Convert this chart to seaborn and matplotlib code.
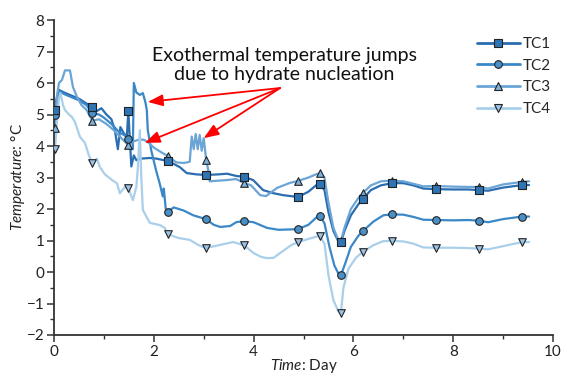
import numpy as np
import pandas as pd
import matplotlib
matplotlib.use("Agg")
import matplotlib.pyplot as plt
import seaborn as sns
from matplotlib.lines import Line2D

# ---------------- data ----------------
series_names = ["TC1", "TC2", "TC3", "TC4"]

tc1_t = [0.0, 0.02, 0.05, 0.1, 0.2, 0.35, 0.5, 0.6, 0.7, 0.77, 0.85, 0.95, 1.05, 1.15, 1.22, 1.28, 1.33, 1.4, 1.46,
         1.49, 1.52, 1.55, 1.6, 1.65, 1.75, 1.92, 2.05, 2.2, 2.28, 2.52, 2.66, 2.85, 3.04, 3.3, 3.47, 3.65, 3.81, 3.99,
         4.19, 4.4, 4.59, 4.89, 5.1, 5.25, 5.33, 5.42, 5.5, 5.6, 5.7, 5.75, 5.82, 5.95, 6.1, 6.19, 6.35, 6.55, 6.77,
         7.0, 7.2, 7.4, 7.65, 8.0, 8.3, 8.51, 8.7, 9.0, 9.38, 9.52]
tc1_v = [5.0, 5.14, 5.5, 5.78, 5.7, 5.6, 5.5, 5.4, 5.3, 5.23, 5.1, 5.2, 5.0, 4.85, 4.5, 3.9, 4.6, 4.4, 4.3,
         5.11, 4.2, 3.35, 3.7, 3.55, 3.6, 3.62, 3.6, 3.55, 3.53, 3.33, 3.14, 3.1, 3.08, 3.1, 3.12, 3.05, 3.02, 2.92,
         2.6, 2.5, 2.44, 2.38, 2.55, 2.75, 2.79, 2.6, 1.9, 1.3, 0.97, 0.95, 1.3, 1.8, 2.15, 2.32, 2.6, 2.75, 2.82,
         2.82, 2.75, 2.65, 2.63, 2.62, 2.62, 2.6, 2.58, 2.68, 2.76, 2.76]

tc2_t = [0.0, 0.02, 0.06, 0.1, 0.2, 0.35, 0.5, 0.65, 0.77, 0.9, 1.0, 1.15, 1.3, 1.45, 1.49, 1.53, 1.58, 1.6, 1.65,
         1.72, 1.78, 1.83, 1.86, 1.88, 1.95, 2.05, 2.12, 2.18, 2.2, 2.24, 2.28, 2.4, 2.6, 2.79, 3.04, 3.2, 3.33,
         3.53, 3.65, 3.81, 4.0, 4.27, 4.5, 4.7, 4.89, 5.1, 5.25, 5.33, 5.42, 5.52, 5.62, 5.7, 5.75, 5.82, 5.95, 6.1,
         6.19, 6.4, 6.6, 6.77, 7.0, 7.2, 7.4, 7.65, 8.0, 8.3, 8.51, 8.7, 9.0, 9.38, 9.52]
tc2_v = [4.9, 4.98, 5.4, 5.75, 5.65, 5.55, 5.45, 5.3, 5.04, 5.0, 4.9, 4.7, 4.45, 4.3, 4.21, 3.9, 3.9, 6.0, 5.7,
         5.62, 5.68, 5.4, 5.14, 4.5, 3.85, 3.2, 2.8, 2.4, 2.65, 2.0, 1.92, 2.05, 1.95, 1.8, 1.68, 1.5, 1.43,
         1.46, 1.58, 1.62, 1.58, 1.4, 1.34, 1.35, 1.36, 1.5, 1.72, 1.78, 1.55, 0.8, 0.2, -0.05, -0.1, 0.2, 0.8, 1.15,
         1.3, 1.6, 1.8, 1.83, 1.82, 1.75, 1.66, 1.65, 1.64, 1.65, 1.63, 1.58, 1.68, 1.76, 1.76]

tc3_t = [0.0, 0.02, 0.06, 0.1, 0.16, 0.22, 0.32, 0.38, 0.46, 0.55, 0.65, 0.77, 0.9, 1.05, 1.2, 1.35, 1.49, 1.6,
         1.7, 1.8, 1.9, 2.0, 2.15, 2.28, 2.45, 2.6, 2.72, 2.76, 2.8, 2.84, 2.88, 2.92, 2.96, 3.0, 3.05, 3.09,
         3.12, 3.3, 3.47, 3.65, 3.81, 3.95, 4.13, 4.25, 4.47, 4.73, 4.89, 5.1, 5.25, 5.33, 5.42, 5.5, 5.6, 5.7,
         5.75, 5.82, 5.95, 6.1, 6.19, 6.35, 6.55, 6.77, 7.0, 7.2, 7.4, 7.65, 8.0, 8.3, 8.51, 8.7, 9.0, 9.38, 9.52]
tc3_v = [4.4, 4.57, 5.6, 6.0, 6.1, 6.4, 6.4, 5.87, 5.56, 5.3, 5.15, 4.8, 4.85, 4.7, 4.5, 4.25, 4.03, 4.15,
         4.2, 4.2, 4.1, 3.95, 3.8, 3.68, 3.48, 3.46, 3.5, 4.3, 3.9, 4.38, 3.9, 4.35, 3.85, 4.25, 3.56, 3.24,
         2.88, 2.9, 2.92, 2.95, 2.83, 2.75, 2.44, 2.41, 2.67, 2.83, 2.89, 3.0, 3.1, 3.14, 3.0, 2.2, 1.4, 1.0,
         0.98, 1.4, 2.0, 2.35, 2.51, 2.75, 2.88, 2.9, 2.88, 2.8, 2.72, 2.73, 2.71, 2.7, 2.7, 2.65, 2.78, 2.86, 2.88]

tc4_t = [0.0, 0.02, 0.06, 0.1, 0.13, 0.18, 0.22, 0.3, 0.36, 0.42, 0.52, 0.62, 0.7, 0.77, 0.86, 0.92, 1.02, 1.1,
         1.18, 1.26, 1.32, 1.42, 1.49, 1.58, 1.65, 1.68, 1.72, 1.75, 1.78, 1.92, 2.12, 2.22, 2.28, 2.49, 2.72,
         2.9, 3.04, 3.33, 3.59, 3.81, 4.0, 4.15, 4.27, 4.4, 4.53, 4.75, 4.89, 5.1, 5.25, 5.33, 5.42, 5.5, 5.6,
         5.7, 5.75, 5.8, 5.9, 6.05, 6.19, 6.4, 6.6, 6.77, 7.0, 7.2, 7.4, 7.65, 8.0, 8.3, 8.51, 8.7, 9.0, 9.38, 9.52]
tc4_v = [3.75, 3.9, 4.8, 5.5, 5.68, 5.3, 5.14, 5.0, 4.92, 4.76, 4.29, 4.1, 3.7, 3.45, 3.6, 3.33, 3.1, 3.0,
         2.9, 2.82, 2.5, 2.7, 2.66, 2.28, 2.7, 3.3, 4.5, 3.0, 1.97, 1.56, 1.49, 1.4, 1.2, 1.08, 1.02,
         0.85, 0.76, 0.86, 0.95, 0.85, 0.6, 0.48, 0.44, 0.45, 0.6, 0.85, 0.95, 1.05, 1.12, 1.14, 0.9, -0.1, -0.9,
         -1.25, -1.3, -0.5, 0.1, 0.45, 0.64, 0.85, 0.98, 0.99, 0.97, 0.9, 0.78, 0.77, 0.77, 0.76, 0.74, 0.72, 0.82, 0.95, 0.95]

marker_t = [0.02, 0.77, 1.49, 2.28, 3.04, 3.81, 4.89, 5.33, 5.75, 6.19, 6.77, 7.65, 8.51, 9.38]
tc1_m = [5.14, 5.23, 5.11, 3.53, 3.08, 3.02, 2.38, 2.79, 0.95, 2.32, 2.82, 2.63, 2.60, 2.76]
tc2_m = [4.98, 5.04, 4.21, 1.92, 1.68, 1.62, 1.36, 1.78, -0.10, 1.30, 1.83, 1.65, 1.63, 1.76]
tc3_m = [4.57, 4.80, 4.03, 3.68, 3.56, 2.83, 2.89, 3.14, 0.98, 2.51, 2.90, 2.73, 2.70, 2.86]
tc4_m = [3.90, 3.45, 2.66, 1.20, 0.76, 0.85, 0.95, 1.14, -1.30, 0.64, 0.99, 0.77, 0.74, 0.95]

annot_text = "Exothermal temperature jumps\ndue to hydrate nucleation"
annot_origin = (4.53, 5.84)
annot_targets = [(1.88, 5.40), (1.82, 4.10), (3.00, 4.25)]

# ---------------- style ----------------
sns.set_style("ticks")
plt.rcParams["font.family"] = ["Lato", "DejaVu Sans"]
plt.rcParams["mathtext.fontset"] = "custom"
plt.rcParams["mathtext.rm"] = "Lato"
plt.rcParams["mathtext.it"] = "Lato:italic"

line_colors = ["#2a6db0", "#3a88c8", "#6aa5d6", "#a9cfea"]
fill_colors = ["#2e75b6", "#4a90c8", "#7fb2dc", "#9dc3e6"]
markers = ["s", "o", "^", "v"]

lines_t = [tc1_t, tc2_t, tc3_t, tc4_t]
lines_v = [tc1_v, tc2_v, tc3_v, tc4_v]
marks_v = [tc1_m, tc2_m, tc3_m, tc4_m]

fig = plt.figure(figsize=(5.63, 3.74), dpi=100)
ax = fig.add_axes([54 / 563, 1 - 335 / 374, (553 - 54) / 563, (335 - 20) / 374])

# draw in reverse so TC1 is on top
for i in [3, 2, 1, 0]:
    df = pd.DataFrame({"t": lines_t[i], "v": lines_v[i]})
    sns.lineplot(data=df, x="t", y="v", ax=ax, color=line_colors[i], lw=1.6,
                 sort=False, estimator=None, zorder=2 + i * 0.1)
for i in [3, 2, 1, 0]:
    dm = pd.DataFrame({"t": marker_t, "v": marks_v[i]})
    sns.scatterplot(data=dm, x="t", y="v", ax=ax, marker=markers[i], s=30,
                    color=fill_colors[i], edgecolor="#222222", linewidth=0.8, zorder=4)

ax.set_xlim(0, 10)
ax.set_ylim(-2, 8)
ax.set_xticks([0, 2, 4, 6, 8, 10])
ax.set_xticks([1, 3, 5, 7, 9], minor=True)
ax.set_yticks(range(-2, 9))
ax.set_yticks(np.arange(-1.5, 8, 1.0), minor=True)
ax.tick_params(axis="both", which="major", length=5, width=1.1, color="#333333",
               labelsize=11, labelcolor="#222222", direction="out", pad=2)
ax.tick_params(axis="both", which="minor", length=3, width=1.0, color="#333333", direction="out")
for s in ["top", "right"]:
    ax.spines[s].set_visible(False)
for s in ["left", "bottom"]:
    ax.spines[s].set_linewidth(1.3)
    ax.spines[s].set_color("#333333")

ax.set_xlabel(r"$\it{Time}$: Day", fontsize=11, color="#222222", labelpad=-1)
ax.set_ylabel(r"$\it{Temperature}$: °C", fontsize=11, color="#222222", labelpad=0)

# annotation
ax.text(4.61, 6.57, annot_text, ha="center", va="center", fontsize=14.0,
        color="#111111", linespacing=1.2)
for tx, ty in annot_targets:
    ax.annotate("", xy=(tx, ty), xytext=annot_origin,
                arrowprops=dict(arrowstyle="-|>,head_length=0.9,head_width=0.35",
                                color="#ff0000", lw=1.3, shrinkA=0, shrinkB=0), zorder=6)

handles = [Line2D([0], [0], color=line_colors[i], lw=2, marker=markers[i], markersize=5.5,
                  markerfacecolor=fill_colors[i], markeredgecolor="#222222", markeredgewidth=0.8)
           for i in range(4)]
leg = ax.legend(handles, series_names, loc="upper left", bbox_to_anchor=(0.835, 0.965),
                frameon=False, fontsize=11, handlelength=2.8, handletextpad=0.2,
                labelspacing=0.5, borderaxespad=0)

fig.savefig("out.png", dpi=100)
